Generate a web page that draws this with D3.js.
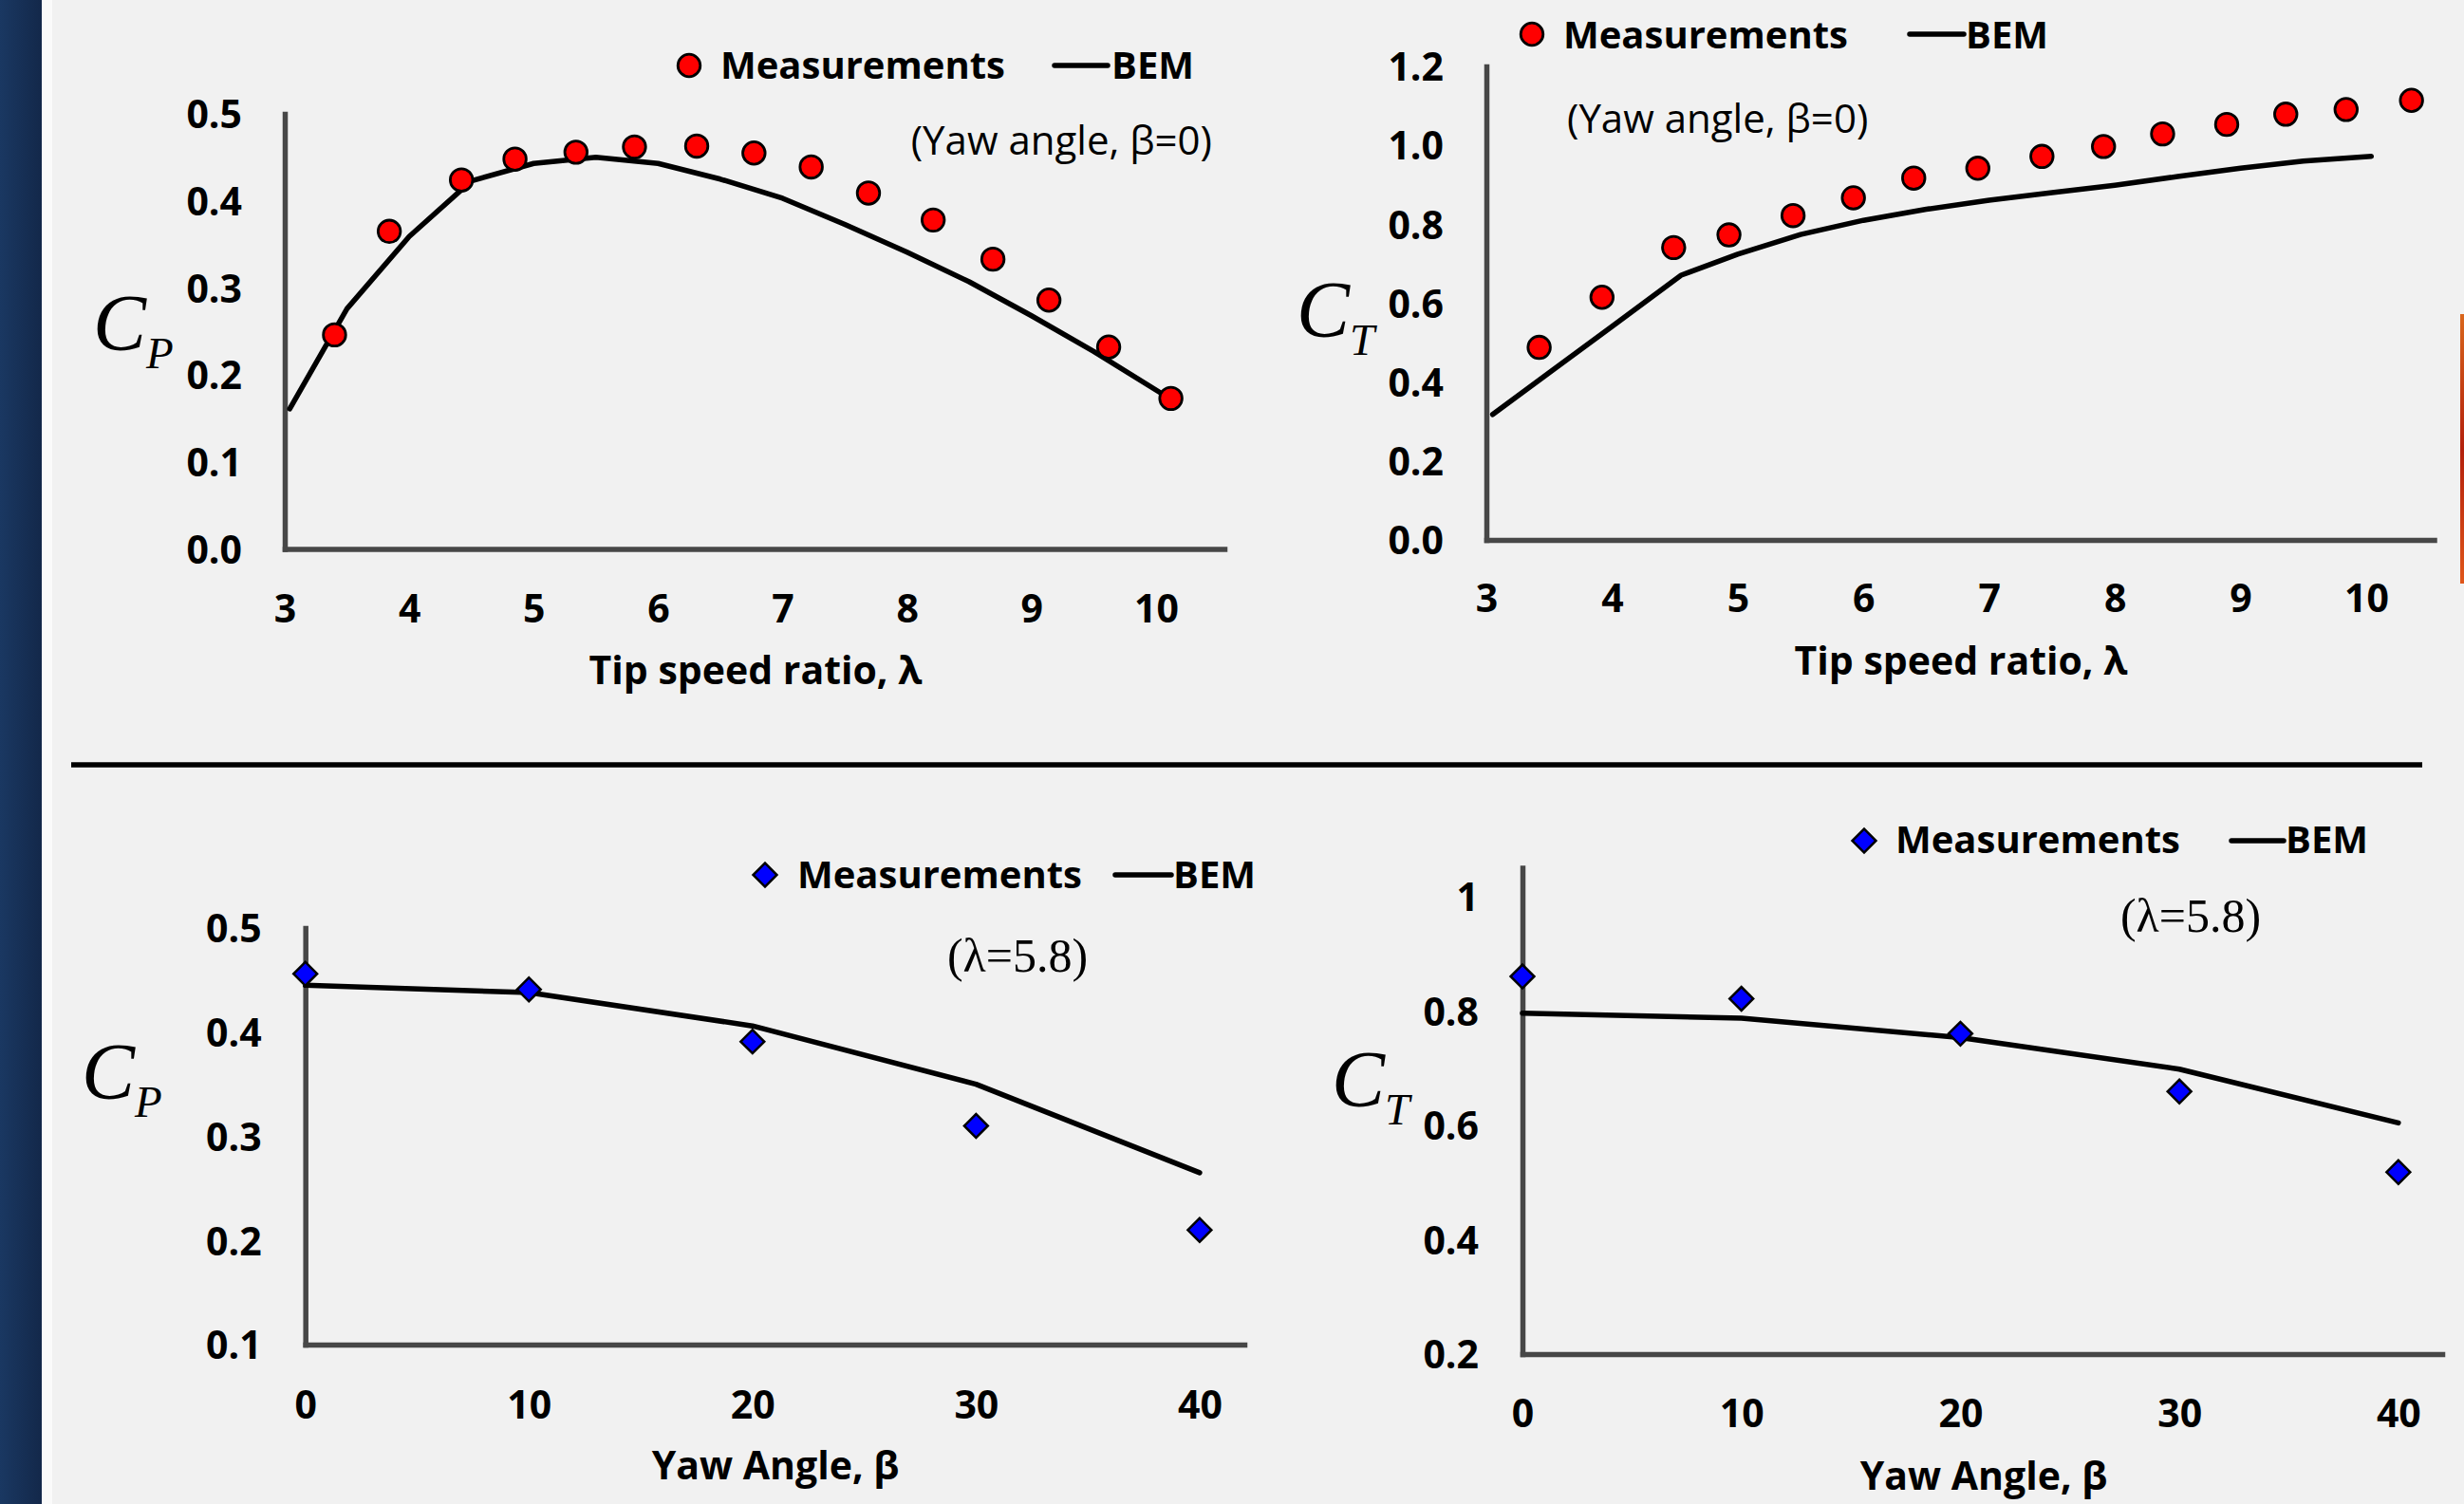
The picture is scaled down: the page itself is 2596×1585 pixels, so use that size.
<!DOCTYPE html>
<html>
<head>
<meta charset="utf-8">
<script src="https://cdn.jsdelivr.net/npm/d3@7"></script>
<style>
  html, body { margin: 0; padding: 0; background: #f1f1f1; }
  svg { display: block; }
</style>
</head>
<body>
<svg id="main" width="2596" height="1585"></svg>
<script>
// ---- data ----
const tsrTicks = [3, 4, 5, 6, 7, 8, 9, 10];
const yawTicks = [0, 10, 20, 30, 40];

// Cp vs tip speed ratio (yaw 0)
const cpMeasTsr = [3.40, 3.84, 4.42, 4.85, 5.34, 5.81, 6.31, 6.77, 7.23, 7.69, 8.21, 8.69, 9.14, 9.62, 10.12];
const cpMeas = [0.246, 0.365, 0.424, 0.448, 0.456, 0.462, 0.463, 0.455, 0.439, 0.409, 0.378, 0.333, 0.286, 0.232, 0.173];
const cpBemTsr = [3.04, 3.5, 4.0, 4.5, 5.0, 5.5, 6.0, 6.5, 7.0, 7.5, 8.0, 8.5, 9.0, 9.5, 10.12];
const cpBem = [0.161, 0.276, 0.359, 0.423, 0.443, 0.450, 0.443, 0.425, 0.403, 0.373, 0.341, 0.307, 0.268, 0.227, 0.172];

// Ct vs tip speed ratio (yaw 0)
const ctMeasTsr = [3.42, 3.92, 4.49, 4.93, 5.44, 5.92, 6.40, 6.91, 7.42, 7.91, 8.38, 8.89, 9.36, 9.84, 10.36];
const ctMeas = [0.488, 0.615, 0.741, 0.773, 0.822, 0.867, 0.917, 0.942, 0.972, 0.997, 1.029, 1.053, 1.079, 1.091, 1.114];
const ctBemTsr = [3.05, 3.5, 4.0, 4.55, 5.0, 5.5, 6.0, 6.5, 7.0, 7.5, 8.0, 8.5, 9.0, 9.5, 10.04];
const ctBem = [0.318, 0.424, 0.541, 0.671, 0.724, 0.774, 0.810, 0.838, 0.861, 0.880, 0.899, 0.921, 0.942, 0.960, 0.972];

// Cp / Ct vs yaw angle (lambda 5.8)
const yawAngles = [0, 10, 20, 30, 40];
const cpMeasYaw = [0.456, 0.441, 0.391, 0.310, 0.210];
const cpBemYaw = [0.445, 0.438, 0.406, 0.350, 0.265];
const ctMeasYaw = [0.860, 0.821, 0.760, 0.659, 0.518];
const ctBemYaw = [0.796, 0.787, 0.753, 0.698, 0.604];

const cpTsrTicks = [0, 0.1, 0.2, 0.3, 0.4, 0.5];
const ctTsrTicks = [0, 0.2, 0.4, 0.6, 0.8, 1.0, 1.2];
const cpYawTicks = [0.1, 0.2, 0.3, 0.4, 0.5];
const ctYawTicks = [0.2, 0.4, 0.6, 0.8, 1];

// ---- layout ----
const svg = d3.select('#main'),
    SANS = '"Open Sans", Lato, sans-serif',
    SERIF = '"Liberation Serif", "DejaVu Serif", serif',
    axisColor = '#474747';

const panels = [
    {
        xs: cpMeasTsr, ys: cpMeas, bx: cpBemTsr, by: cpBem, marker: 'circle',
        xDom: [3, 10.55], xRange: [300, 1290], yDom: [0, 0.5], yRange: [578.5, 120],
        xTicks: tsrTicks, yTicks: cpTsrTicks, yFmt: d3.format('.1f'),
        xPad: 48, yPad: 45,
        title: 'Tip speed ratio, λ', titleX: 796, titleY: 721,
        sym: { c: 'C', sub: 'P', x: 98, y: 369 },
        legend: { mx: 726, my: 69, tx: 759, ty: 83, lx1: 1111, lx2: 1167, bx: 1171 },
        note: { text: '(Yaw angle, β=0)', x: 1277, y: 163, anchor: 'end', serif: false }
    },
    {
        xs: ctMeasTsr, ys: ctMeas, bx: ctBemTsr, by: ctBem, marker: 'circle',
        xDom: [3, 10.54], xRange: [1566, 2564.5], yDom: [0, 1.2], yRange: [569, 70],
        xTicks: tsrTicks, yTicks: ctTsrTicks, yFmt: d3.format('.1f'),
        xPad: 47, yPad: 45,
        title: 'Tip speed ratio, λ', titleX: 2066, titleY: 711,
        sym: { c: 'C', sub: 'T', x: 1366, y: 355 },
        legend: { mx: 1614, my: 36, tx: 1647, ty: 51, lx1: 2012, lx2: 2069, bx: 2071 },
        note: { text: '(Yaw angle, β=0)', x: 1651, y: 140, anchor: 'start', serif: false }
    },
    {
        xs: yawAngles, ys: cpMeasYaw, bx: yawAngles, by: cpBemYaw, marker: 'diamond',
        xDom: [0, 42], xRange: [321.7, 1311], yDom: [0.1, 0.5], yRange: [1417, 978],
        xTicks: yawTicks, yTicks: cpYawTicks, yFmt: d3.format('.1f'),
        xPad: 49, yPad: 46,
        title: 'Yaw Angle, β', titleX: 817, titleY: 1559,
        sym: { c: 'C', sub: 'P', x: 86, y: 1158 },
        legend: { mx: 806, my: 922, tx: 840, ty: 936, lx1: 1175, lx2: 1234, bx: 1236 },
        note: { text: '(λ=5.8)', x: 1072, y: 1024, anchor: 'middle', serif: true }
    },
    {
        xs: yawAngles, ys: ctMeasYaw, bx: yawAngles, by: ctBemYaw, marker: 'diamond',
        xDom: [0, 42], xRange: [1604, 2573], yDom: [0.2, 1.05], yRange: [1427, 914.5],
        xTicks: yawTicks, yTicks: ctYawTicks, yFmt: d => String(+d.toFixed(1)),
        xPad: 48, yPad: 46,
        title: 'Yaw Angle, β', titleX: 2090, titleY: 1570,
        sym: { c: 'C', sub: 'T', x: 1403, y: 1166 },
        legend: { mx: 1964, my: 886, tx: 1997, ty: 899, lx1: 2351, lx2: 2406, bx: 2408 },
        note: { text: '(λ=5.8)', x: 2308, y: 982, anchor: 'middle', serif: true }
    }
];

// ---- page decoration ----
const defs = svg.append('defs');
const navy = defs.append('linearGradient').attr('id', 'navy');
navy.append('stop').attr('offset', 0).attr('stop-color', '#1a3862');
navy.append('stop').attr('offset', 1).attr('stop-color', '#13284a');
const ember = defs.append('linearGradient').attr('id', 'ember')
    .attr('x1', 0).attr('y1', 0).attr('x2', 0).attr('y2', 1);
ember.append('stop').attr('offset', 0).attr('stop-color', '#d9661c');
ember.append('stop').attr('offset', 0.5).attr('stop-color', '#b3200c');
ember.append('stop').attr('offset', 1).attr('stop-color', '#e0561a');

svg.append('rect').attr('width', 2596).attr('height', 1585).attr('fill', '#f1f1f1');
svg.append('rect').attr('x', 0).attr('width', 44).attr('height', 1585).attr('fill', 'url(#navy)');
svg.append('rect').attr('x', 44).attr('width', 11).attr('height', 1585).attr('fill', '#fafafa');
svg.append('rect').attr('x', 2592).attr('y', 331).attr('width', 4).attr('height', 284).attr('fill', 'url(#ember)');

// separator between the two rows
svg.append('line')
    .attr('x1', 75).attr('x2', 2552)
    .attr('y1', 806).attr('y2', 806)
    .attr('stroke', '#000')
    .attr('stroke-width', 5.5);

function drawMarker(g, kind, x, y) {
    if (kind === 'circle') {
        g.append('circle')
            .attr('cx', x).attr('cy', y).attr('r', 11.8)
            .attr('fill', '#ff0000')
            .attr('stroke', '#000')
            .attr('stroke-width', 2.8);
    } else {
        g.append('path')
            .attr('d', d3.symbol(d3.symbolSquare, 310)())
            .attr('transform', `translate(${x},${y}) rotate(45)`)
            .attr('fill', '#0000ff')
            .attr('stroke', '#000')
            .attr('stroke-width', 2.5);
    }
}

function text(g, x, y, str, size, anchor) {
    return g.append('text')
        .attr('x', x).attr('y', y)
        .attr('font-family', SANS)
        .attr('font-weight', 'bold')
        .attr('font-size', size)
        .attr('text-anchor', anchor || 'start')
        .attr('fill', '#000')
        .text(str);
}

panels.forEach(function (p) {
    const g = svg.append('g'),
        x = d3.scaleLinear().domain(p.xDom).range(p.xRange),
        y = d3.scaleLinear().domain(p.yDom).range(p.yRange);

    // axes
    const yAxis = g.append('g')
        .attr('transform', `translate(${p.xRange[0]},0)`)
        .call(d3.axisLeft(y).tickValues(p.yTicks).tickFormat(p.yFmt).tickSize(0).tickPadding(p.yPad));
    const xAxis = g.append('g')
        .attr('transform', `translate(0,${p.yRange[0]})`)
        .call(d3.axisBottom(x).tickValues(p.xTicks).tickSize(0).tickPadding(p.xPad));

    [yAxis, xAxis].forEach(function (a) {
        a.select('.domain')
            .attr('stroke', axisColor)
            .attr('stroke-width', 5.5)
            .attr('stroke-linecap', 'square');
        a.selectAll('text')
            .attr('font-family', SANS)
            .attr('font-weight', 'bold')
            .attr('font-size', 41)
            .attr('fill', '#000');
    });
    yAxis.selectAll('text').attr('dy', '0.36em');

    // BEM line
    const pts = p.bx.map((v, i) => [v, p.by[i]]);
    g.append('path')
        .datum(pts)
        .attr('d', d3.line().x(d => x(d[0])).y(d => y(d[1])))
        .attr('fill', 'none')
        .attr('stroke', '#000')
        .attr('stroke-width', 5.5)
        .attr('stroke-linejoin', 'round')
        .attr('stroke-linecap', 'round');

    // measurements
    p.xs.forEach(function (v, i) {
        drawMarker(g, p.marker, x(v), y(p.ys[i]));
    });

    // axis title
    text(g, p.titleX, p.titleY, p.title, 41, 'middle');

    // C_P / C_T symbol
    const s = g.append('text')
        .attr('x', p.sym.x).attr('y', p.sym.y)
        .attr('font-family', SERIF)
        .attr('font-style', 'italic')
        .attr('font-size', 84)
        .attr('fill', '#000')
        .text(p.sym.c);
    s.append('tspan')
        .attr('dy', 19)
        .attr('font-size', 47)
        .text(p.sym.sub);

    // legend
    const L = p.legend;
    drawMarker(g, p.marker, L.mx, L.my);
    text(g, L.tx, L.ty, 'Measurements', 40);
    g.append('line')
        .attr('x1', L.lx1).attr('x2', L.lx2)
        .attr('y1', L.my).attr('y2', L.my)
        .attr('stroke', '#000')
        .attr('stroke-width', 5.5)
        .attr('stroke-linecap', 'round');
    text(g, L.bx, L.ty, 'BEM', 40);

    // condition note
    const n = g.append('text')
        .attr('x', p.note.x).attr('y', p.note.y)
        .attr('text-anchor', p.note.anchor)
        .attr('fill', '#000')
        .text(p.note.text);
    if (p.note.serif) {
        n.attr('font-family', SERIF).attr('font-size', 50);
    } else {
        n.attr('font-family', SANS).attr('font-size', 42);
    }
});
</script>
</body>
</html>
